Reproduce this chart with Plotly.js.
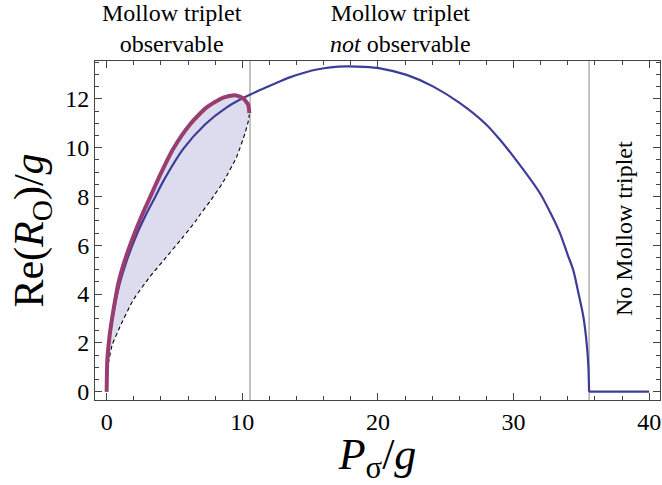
<!DOCTYPE html>
<html>
<head>
<meta charset="utf-8">
<script src="https://cdn.plot.ly/plotly-3.0.1.min.js"></script>
<style>html,body{margin:0;padding:0;background:#fff;}#chart{width:662px;height:485px;}</style>
</head>
<body>
<div id="chart"></div>
<script>
// Blue curve: Re(R_O)/g over the whole pump range
const blueX = [0, 0.05, 0.25, 0.58, 0.95, 1.5, 2.15, 2.85, 3.55, 4.2, 5.65, 7.25, 8.85, 9.95, 10.57, 11.3, 12.29, 13.5, 14.75, 15.5, 16.5, 17.7, 19, 20.15, 22.12, 24.09, 26.05, 28.02, 29, 30.0, 31.95, 32.7, 33.43, 34.0, 34.4, 34.8, 35.15, 35.4, 35.52, 35.57];
const blueY = [0, 1.2, 2.35, 3.45, 4.4, 5.4, 6.35, 7.2, 7.95, 8.65, 9.95, 10.95, 11.65, 12.0, 12.17, 12.36, 12.6, 12.88, 13.1, 13.2, 13.29, 13.33, 13.31, 13.25, 12.98, 12.5, 11.82, 10.93, 10.32, 9.63, 8.13, 7.35, 6.49, 5.6, 4.99, 4.0, 3.07, 1.95, 1.02, 0];
// Blue curve after the Mollow triplet disappears
const flatX = [35.57, 40];
const flatY = [0, 0];
// Purple (thick) curve: upper border of the observable region
const purpleX = [0, 0.05, 0.24, 0.54, 0.86, 1.35, 1.96, 2.58, 3.19, 3.75, 4.91, 6.14, 7.37, 8.6, 9.46, 10.07, 10.44, 10.52];
const purpleY = [0, 1.3, 2.39, 3.48, 4.44, 5.4, 6.35, 7.2, 7.95, 8.65, 9.95, 10.95, 11.65, 12.05, 12.15, 12.02, 11.75, 11.41];
// Dashed curve: lower border of the observable region
const dashX = [0.12, 0.4, 0.98, 1.96, 3.19, 4.42, 5.65, 6.51, 6.88, 7.62, 8.6, 9.59, 10.2, 10.45, 10.52];
const dashY = [1.15, 1.9, 2.66, 3.76, 4.71, 5.53, 6.35, 6.95, 7.25, 7.8, 8.6, 9.63, 10.59, 11.1, 11.35];
// Regime boundaries
const boundaries = [10.57, 35.57];
const xTicks = [0, 10, 20, 30, 40];
const yTicks = [0, 2, 4, 6, 8, 10, 12];

const blue = 'rgb(61,61,153)';
const purple = 'rgb(153,61,113)';

// shaded region: purple forward, dashed backward
const fillX = purpleX.concat(dashX.slice().reverse()).concat([0]);
const fillY = purpleY.concat(dashY.slice().reverse()).concat([0]);

const traces = [
  {x: fillX, y: fillY, mode: 'lines', fill: 'toself', fillcolor: 'rgb(220,220,238)', line: {width: 0, color: 'rgba(0,0,0,0)', shape: 'spline', smoothing: 0.5}, hoverinfo: 'skip', showlegend: false},
  {x: dashX, y: dashY, mode: 'lines', line: {color: '#000', width: 1.1, dash: '4px,3px', shape: 'spline', smoothing: 0.5}, showlegend: false},
  {x: blueX, y: blueY, mode: 'lines', line: {color: blue, width: 2.2, shape: 'spline', smoothing: 0.8}, showlegend: false},
  {x: flatX, y: flatY, mode: 'lines', line: {color: blue, width: 2.2}, showlegend: false},
  {x: purpleX, y: purpleY, mode: 'lines', line: {color: purple, width: 4, shape: 'spline', smoothing: 0.6}, showlegend: false}
];

const serif = 'Liberation Serif';
const axisCommon = {
  ticks: 'inside', ticklen: 7, tickwidth: 1, tickcolor: '#444',
  showline: true, linecolor: '#444', linewidth: 1, mirror: 'allticks',
  showgrid: false, zeroline: false,
  tickfont: {family: serif, size: 24, color: '#000'}
};

const layout = {
  width: 662, height: 485,
  margin: {l: 95, r: 2, t: 61, b: 85},
  paper_bgcolor: '#fff', plot_bgcolor: '#fff',
  font: {family: serif, color: '#000'},
  xaxis: Object.assign({}, axisCommon, {
    range: [-0.86, 40.8], tickvals: xTicks, ticktext: xTicks.map(String),
    minor: {dtick: 2, tick0: 0, ticks: 'inside', ticklen: 4, tickcolor: '#444'},
    title: {text: '<i>P</i><sub>σ</sub>/<i>g</i>', font: {family: serif, size: 44, color: '#000'}, standoff: 4}
  }),
  yaxis: Object.assign({}, axisCommon, {
    range: [-0.34, 13.55], tickvals: yTicks, ticktext: yTicks.map(String),
    minor: {dtick: 0.5, tick0: 0, ticks: 'inside', ticklen: 4, tickcolor: '#444'},
    title: {text: 'Re(<i>R</i><sub>O</sub>)/<i>g</i>', font: {family: serif, size: 42, color: '#000'}, standoff: 8}
  }),
  shapes: boundaries.map(b => ({type: 'line', xref: 'x', yref: 'paper', x0: b, x1: b, y0: 0, y1: 1, line: {color: '#888', width: 1}, layer: 'below'})),
  annotations: [
    {xref: 'paper', yref: 'paper', x: 0.136, y: 1.095, text: 'Mollow triplet<br>observable', showarrow: false, font: {family: serif, size: 24, color: '#000'}, xanchor: 'center', yanchor: 'middle'},
    {xref: 'paper', yref: 'paper', x: 0.54, y: 1.095, text: 'Mollow triplet<br><i>not</i> observable', showarrow: false, font: {family: serif, size: 24, color: '#000'}, xanchor: 'center', yanchor: 'middle'},
    {xref: 'paper', yref: 'paper', x: 0.936, y: 0.507, text: 'No Mollow triplet', textangle: -90, showarrow: false, font: {family: serif, size: 24, color: '#000'}, xanchor: 'center', yanchor: 'middle'}
  ]
};

Plotly.newPlot('chart', traces, layout, {staticPlot: true, displayModeBar: false});
</script>
</body>
</html>
